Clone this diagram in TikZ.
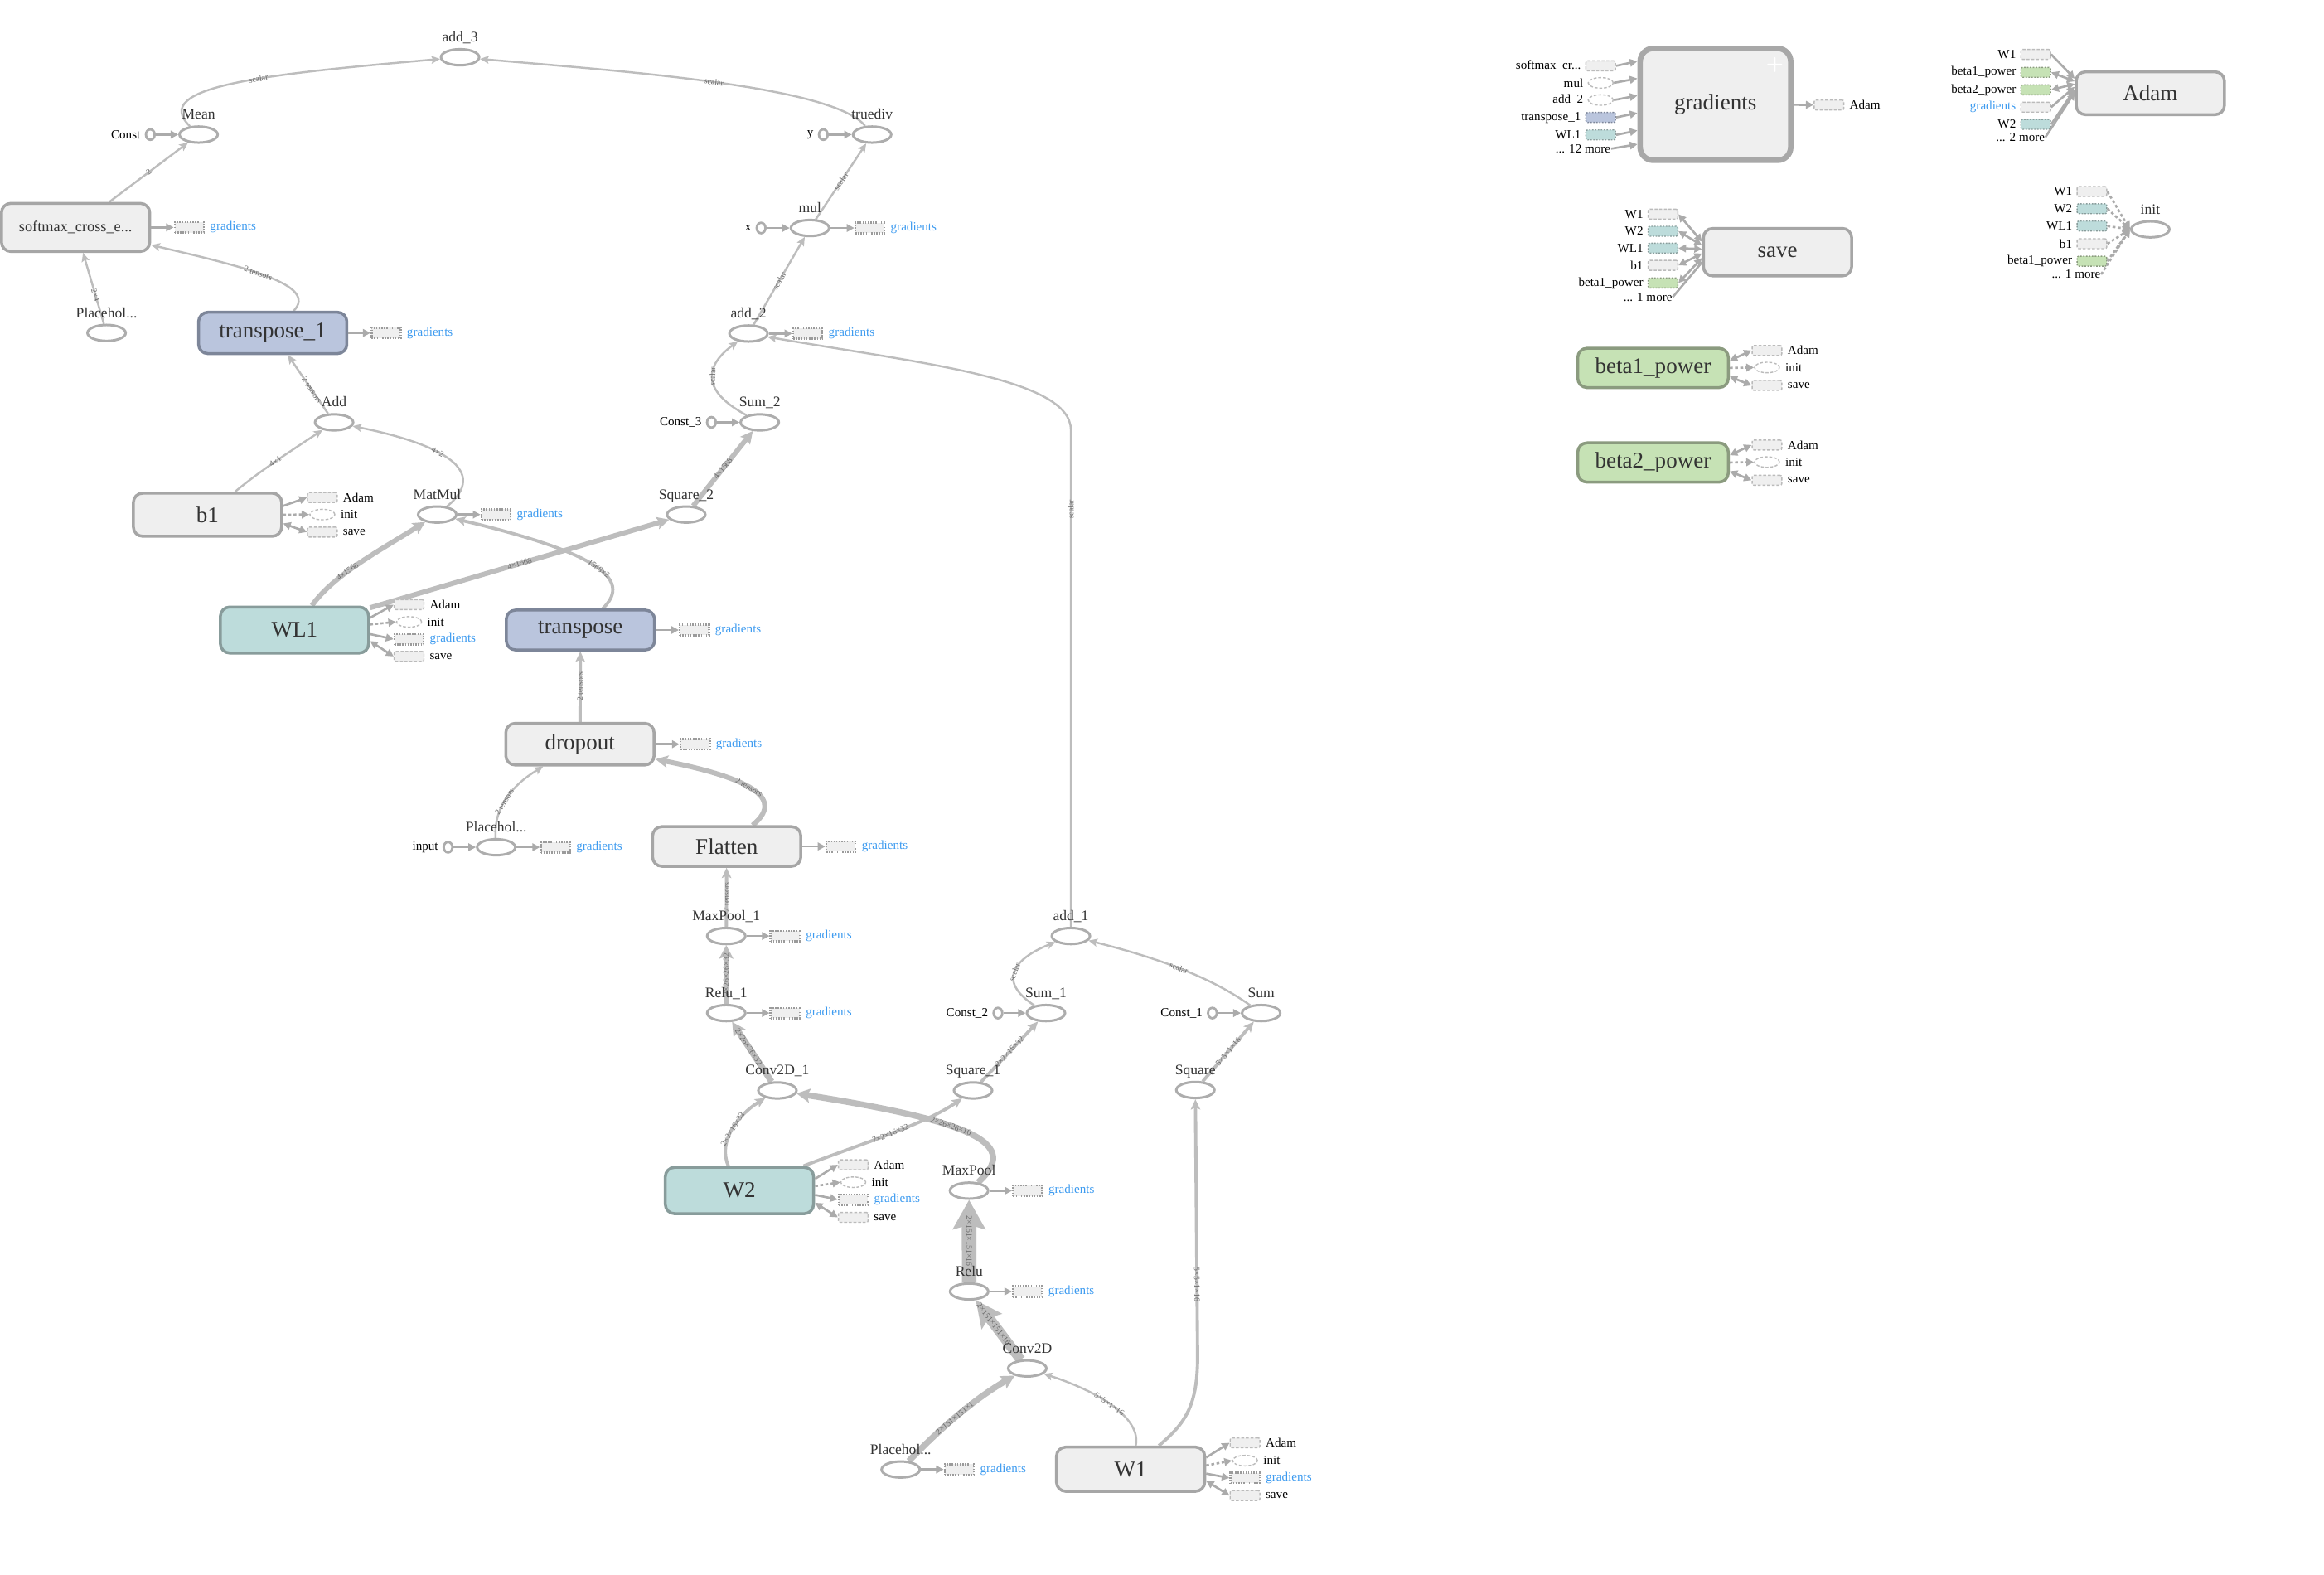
\documentclass[tikz,border=0pt]{standalone}
\usepackage{fontspec}
\setmainfont{Liberation Serif}
\usetikzlibrary{arrows.meta,shapes.geometric}
\pgfdeclarelayer{paper}
\pgfdeclarelayer{edges}
\pgfsetlayers{paper,edges,main}

\definecolor{edgec}{HTML}{BDBDBD}
\definecolor{arrc}{HTML}{ABABAB}
\definecolor{boxfill}{HTML}{EFEFEF}
\definecolor{boxline}{HTML}{A6A6A6}
\definecolor{bigline}{HTML}{A8A8A8}
\definecolor{opline}{HTML}{ADADAD}
\definecolor{txt}{HTML}{333333}
\definecolor{tealfill}{HTML}{BDDCDB}
\definecolor{tealline}{HTML}{889C9B}
\definecolor{bluefill}{HTML}{BAC5DD}
\definecolor{blueline}{HTML}{7D8699}
\definecolor{greenfill}{HTML}{C6E2B5}
\definecolor{greenline}{HTML}{8B9B7F}
\definecolor{gradblue}{HTML}{3D9BF0}
\definecolor{stublight}{HTML}{BBBBBB}
\definecolor{stubdark}{HTML}{9B9B9B}
\definecolor{elblc}{HTML}{6A6A6A}

\tikzset{
  box/.style={rectangle, rounded corners=3.2pt, minimum width=50.9pt, minimum height=14.5pt,
    line width=1pt, draw=boxline, fill=boxfill, text=txt,
    font=\fontsize{7.7}{8}\selectfont, inner sep=0pt},
  tealbox/.style={box, draw=tealline, fill=tealfill},
  bluebox/.style={box, draw=blueline, fill=bluefill},
  greenbox/.style={box, draw=greenline, fill=greenfill},
  op/.style={ellipse, minimum width=13.1pt, minimum height=5.5pt, inner sep=0pt,
    draw=opline, fill=white, line width=0.85pt},
  oplbl/.style={anchor=base, font=\fontsize{5}{5}\selectfont, text=txt, inner sep=0pt},
  cst/.style={ellipse, minimum width=3pt, minimum height=3.6pt, inner sep=0pt,
    draw=opline, fill=white, line width=0.8pt},
  smalltxt/.style={font=\fontsize{4.3}{4.3}\selectfont, text=black, inner sep=0pt},
  gtxt/.style={smalltxt, text=gradblue},
  gstub/.style={rectangle, minimum width=10pt, minimum height=3.6pt, inner sep=0pt,
    fill=boxfill, draw=stubdark, line width=0.7pt, dash pattern=on 0.45pt off 0.45pt},
  vstub/.style={rectangle, rounded corners=0.6pt, minimum width=10.2pt, minimum height=3.4pt,
    inner sep=0pt, fill=boxfill, draw=stublight, line width=0.4pt, dash pattern=on 1pt off 0.6pt},
  tstub/.style={vstub, fill=tealfill, draw=tealline, dash pattern=on 0.5pt off 0.5pt},
  bstub/.style={vstub, fill=bluefill, draw=blueline, dash pattern=on 0.5pt off 0.5pt},
  gnstub/.style={vstub, fill=greenfill, draw=greenline, dash pattern=on 0.5pt off 0.5pt},
  istub/.style={ellipse, minimum width=8.6pt, minimum height=3.6pt, inner sep=0pt,
    fill=white, draw=stublight, line width=0.4pt, dash pattern=on 1pt off 0.6pt},
  stubarr/.style={draw=arrc, line width=0.75pt, -{Triangle[length=2.6pt,width=2.6pt]}},
  stubboth/.style={draw=arrc, line width=0.75pt,
    {Triangle[length=2.6pt,width=2.6pt]}-{Triangle[length=2.6pt,width=2.6pt]}},
  stubdash/.style={stubarr, dash pattern=on 1pt off 0.8pt},
  stubline/.style={draw=arrc, line width=0.75pt},
  e0/.style={draw=edgec, line width=0.7pt, -{Stealth[length=3pt,width=2.7pt,inset=0.6pt]}},
  e1/.style={draw=edgec, line width=1.1pt, -{Stealth[length=3.5pt,width=3.2pt,inset=0.7pt]}},
  e2/.style={draw=edgec, line width=1.7pt, -{Stealth[length=4.2pt,width=4.2pt,inset=0.8pt]}},
  e3/.style={draw=edgec, line width=2.1pt, -{Stealth[length=4.6pt,width=4.8pt,inset=0.9pt]}},
  e4/.style={draw=edgec, line width=3.4pt, -{Stealth[length=9pt,width=8.5pt,inset=1.5pt]}},
  e5/.style={draw=edgec, line width=5pt, -{Stealth[length=10pt,width=11pt,inset=1.5pt]}},
  elbl/.style={font=\fontsize{2.8}{2.8}\selectfont, text=elblc, sloped, inner sep=0.2pt},
}

% operation ellipse with its caption above
\newcommand\opnode[4]{%
  \node[op] (#1) at (#2,#3) {};
  \node[oplbl] (#1-l) at ([yshift=5.3pt]#1.center) {#4};}
% gradients stub to the right of a node
\newcommand\gradstub[3]{%
  \node[gstub] (#1-g) at (#2,#3) {};
  \node[gtxt, anchor=west] (#1-gt) at ([xshift=1.6pt]#1-g.east) {gradients};
  \draw[stubarr] (#1) -- (#1-g);}
% small constant input on the left of an operation
\newcommand\constin[5]{%
  \node[cst] (#1) at (#2,#3) {};
  \node[smalltxt, anchor=east] (#1-t) at ([xshift=-1.3pt]#1.west) {#4};
  \draw[stubarr] (#1) -- (#5);}
% stub with its caption on the right / on the left
\newcommand\stubat[5]{%
  \node[#2] (#1) at (#3,#4) {};
  \node[smalltxt, anchor=west] (#1t) at ([xshift=1.6pt]#1.east) {#5};}
\newcommand\stubin[5]{%
  \node[#2] (#1) at (#3,#4) {};
  \node[smalltxt, anchor=east] (#1t) at ([xshift=-1.3pt]#1.west) {#5};}

\begin{document}
\begin{tikzpicture}[x=0.017883cm, y=-0.017883cm]
\useasboundingbox (0,0) rectangle (1568,1062);
\begin{pgfonlayer}{paper}
\fill[white] (0,0) rectangle (1568,1062);
\end{pgfonlayer}

% ---------------- main graph: boxes ----------------
\node[box, minimum height=16.5pt, font=\fontsize{5.2}{5.5}\selectfont] (softmax) at (51,153.4) {softmax\_cross\_e...};
\node[bluebox, minimum height=14.2pt] (tr1) at (184,224.6) {transpose\_1};
\node[box, minimum height=14.8pt] (b1) at (140,347.2) {b1};
\node[tealbox, minimum height=15.8pt] (wl1) at (198.7,425) {WL1};
\node[bluebox, minimum height=13.7pt] (tr) at (391.6,425) {transpose};
\node[box, minimum height=14.3pt] (drop) at (391.3,502) {dropout};
\node[box, minimum height=13.6pt] (flat) at (490.3,571) {Flatten};
\node[tealbox, minimum height=15.9pt] (w2) at (498.9,803.1) {W2};
\node[box, minimum height=15.2pt] (w1) at (762.8,991.1) {W1};

% ---------------- main graph: operations ----------------
\opnode{add3}{310.4}{38.6}{add\_3}
\opnode{mean}{134}{90.8}{Mean}
\opnode{truediv}{588.4}{90.8}{truediv}
\opnode{mul}{546.5}{153.8}{mul}
\opnode{pha}{71.9}{224.6}{Placehol...}
\opnode{add2}{505}{225}{add\_2}
\opnode{add}{225.4}{284.9}{Add}
\opnode{sum2}{512.6}{284.9}{Sum\_2}
\opnode{matmul}{295}{347.1}{MatMul}
\opnode{sq2}{463}{347.1}{Square\_2}
\opnode{phb}{334.8}{571.5}{Placehol...}
\opnode{mp1}{490}{631.4}{MaxPool\_1}
\opnode{relu1}{490}{683.4}{Relu\_1}
\opnode{conv1}{524.5}{735.6}{Conv2D\_1}
\opnode{sq1}{656.5}{735.6}{Square\_1}
\opnode{sum1}{705.7}{683.4}{Sum\_1}
\opnode{add1}{722.5}{631.4}{add\_1}
\opnode{sum}{850.9}{683.4}{Sum}
\opnode{sq}{806.5}{735.3}{Square}
\opnode{mp}{653.8}{803.2}{MaxPool}
\opnode{relu}{653.9}{871.2}{Relu}
\opnode{conv}{693.1}{923.1}{Conv2D}
\opnode{phc}{607.7}{991.3}{Placehol...}

\coordinate (bend) at (722.5,290);
\coordinate (w1up) at (808,915);

% ---------------- constants ----------------
\constin{c0}{101.4}{90.8}{Const}{mean}
\constin{cy}{555.5}{90.8}{y}{truediv}
\constin{cx}{513.5}{153.8}{x}{mul}
\constin{c3}{480}{284.9}{Const\_3}{sum2}
\constin{cin}{302.3}{571.5}{input}{phb}
\constin{c2}{673.3}{683.4}{Const\_2}{sum1}
\constin{c1}{818}{683.4}{Const\_1}{sum}

% ---------------- gradients stubs ----------------
\gradstub{softmax}{127.7}{153.4}
\gradstub{mul}{586.9}{153.8}
\gradstub{tr1}{260.5}{224.6}
\gradstub{add2}{545}{225}
\gradstub{matmul}{334.7}{347.1}
\gradstub{tr}{468.5}{425}
\gradstub{drop}{469}{502}
\gradstub{phb}{374.8}{571.5}
\gradstub{flat}{567.4}{571}
\gradstub{mp1}{529.7}{631.4}
\gradstub{relu1}{529.7}{683.4}
\gradstub{mp}{693.4}{803.2}
\gradstub{relu}{693.3}{871.2}
\gradstub{phc}{647.2}{991.3}

% ---------------- variable stubs ----------------
\stubat{b1a}{vstub}{217.5}{335.6}{Adam}
\stubat{b1i}{istub}{217.5}{347.1}{init}
\stubat{b1s}{vstub}{217.5}{358.9}{save}
\draw[stubarr] ([yshift=3pt]b1.east) -- (b1a.west);
\draw[stubdash] (b1.east) -- (b1i.west);
\draw[stubboth] ([yshift=-3pt]b1.east) -- (b1s.west);

\stubat{wl1a}{vstub}{276}{407.9}{Adam}
\stubat{wl1i}{istub}{276}{419.5}{init}
\stubat{wl1g}{gstub}{276}{431.2}{\textcolor{gradblue}{gradients}}
\stubat{wl1s}{vstub}{276}{442.8}{save}
\draw[stubarr] ([yshift=4.2pt]wl1.east) -- (wl1a.west);
\draw[stubdash] ([yshift=1.9pt]wl1.east) -- (wl1i.west);
\draw[stubarr] ([yshift=-1.4pt]wl1.east) -- (wl1g.west);
\draw[stubboth] ([yshift=-3.8pt]wl1.east) -- (wl1s.west);

\stubat{w2a}{vstub}{575.7}{785.7}{Adam}
\stubat{w2i}{istub}{575.7}{797.5}{init}
\stubat{w2g}{gstub}{575.7}{809.2}{\textcolor{gradblue}{gradients}}
\stubat{w2s}{vstub}{575.7}{821.2}{save}
\draw[stubarr] ([yshift=4pt]w2.east) -- (w2a.west);
\draw[stubdash] ([yshift=1.5pt]w2.east) -- (w2i.west);
\draw[stubarr] ([yshift=-1.5pt]w2.east) -- (w2g.west);
\draw[stubboth] ([yshift=-4.2pt]w2.east) -- (w2s.west);

\stubat{w1a}{vstub}{840}{973.3}{Adam}
\stubat{w1i}{istub}{840}{985.3}{init}
\stubat{w1g}{gstub}{840}{997}{\textcolor{gradblue}{gradients}}
\stubat{w1s}{vstub}{840}{1008.9}{save}
\draw[stubarr] ([yshift=4pt]w1.east) -- (w1a.west);
\draw[stubdash] ([yshift=1.3pt]w1.east) -- (w1i.west);
\draw[stubarr] ([yshift=-1.5pt]w1.east) -- (w1g.west);
\draw[stubboth] ([yshift=-4pt]w1.east) -- (w1s.west);

% ---------------- edges ----------------
\begin{pgfonlayer}{edges}
\draw[e0] (mean) .. controls (100,58) and (180,50) .. node[elbl, pos=0.58] (l1) {scalar} (add3);
\draw[e0] (truediv) .. controls (562,58) and (420,48) .. node[elbl, pos=0.5] (l2) {scalar} (add3);
\draw[e0] (softmax) -- node[elbl] (l3) {2} (mean);
\draw[e0] (pha) -- node[elbl, pos=0.4] (l4) {2×4} (softmax);
\draw[e0] (tr1) .. controls (215,192) and (165,180) .. node[elbl, pos=0.55] (l5) {2 tensors} (softmax);
\draw[e0] (add) -- node[elbl, pos=0.4] (l6) {2 tensors} (tr1);
\draw[e0] (b1) .. controls (175,318) and (195,305) .. node[elbl] (l7) {4×1} (add);
\draw[e0] (matmul) .. controls (330,318) and (300,300) .. node[elbl, pos=0.6] (l8) {4×2} (add);
\draw[e2] (wl1) .. controls (225,388) and (255,372) .. node[elbl, pos=0.4] (l9) {4×1568} (matmul);
\draw[e2] (wl1) -- node[elbl, pos=0.5] (l10) {4×1568} (sq2);
\draw[e1] (tr) .. controls (428,390) and (400,372) .. node[elbl, pos=0.45] (l11) {1568×2} (matmul);
\draw[e2] (sq2) -- node[elbl] (l12) {4×1568} (sum2);
\draw[e0] (sum2) .. controls (470,262) and (478,245) .. node[elbl] (l13) {scalar} (add2);
\draw[e0] (add2) -- node[elbl] (l14) {scalar} (mul);
\draw[e0] (mul) -- node[elbl] (l15) {scalar} (truediv);
\draw[e0] (add1) -- node[elbl, pos=0.84] (l16) {scalar} (bend) .. controls (722.5,255) and (620,245) .. (add2);
\draw[e1] (drop) -- node[elbl] (l17) {2 tensors} (tr);
\draw[e0] (phb) .. controls (333,545) and (345,530) .. node[elbl, pos=0.45] (l18) {2 tensors} (drop);
\draw[e2] (flat) .. controls (528,540) and (512,526) .. node[elbl, pos=0.55] (l19) {2 tensors} (drop);
\draw[e1] (mp1) -- node[elbl] (l20) {2 tensors} (flat);
\draw[e3] (relu1) -- node[elbl] (l21) {2×26×26×32} (mp1);
\draw[e3] (conv1) -- node[elbl, pos=0.58] (l22) {2×26×26×32} (relu1);
\draw[e1] (w2) .. controls (484,770) and (498,752) .. node[elbl, pos=0.5] (l23) {2×2×16×32} (conv1);
\draw[e1] (w2) .. controls (580,772) and (625,758) .. node[elbl, pos=0.5] (l24) {2×2×16×32} (sq1);
\draw[e3] (mp) .. controls (688,772) and (660,757) .. node[elbl, pos=0.6] (l25) {2×26×26×16} (conv1);
\draw[e1] (sq1) -- node[elbl] (l26) {2×2×16×32} (sum1);
\draw[e0] (sum1) .. controls (670,660) and (688,645) .. node[elbl, pos=0.45] (l27) {scalar} (add1);
\draw[e0] (sum) .. controls (815,658) and (780,646) .. node[elbl, pos=0.5] (l28) {scalar} (add1);
\draw[e1] (sq) -- node[elbl] (l29) {5×5×1×16} (sum);
\draw[e1] (w1) .. controls (800,960) and (808,948) .. (w1up) -- node[elbl, pos=0.28] (l30) {5×5×1×16} (sq);
\draw[e0] (w1) .. controls (770,958) and (745,940) .. node[elbl, pos=0.55] (l31) {5×5×1×16} (conv);
\draw[e3] (phc) .. controls (630,968) and (655,945) .. node[elbl, pos=0.5] (l32) {2×151×151×1} (conv);
\draw[e4] (conv) -- node[elbl, pos=0.6] (l33) {2×151×151×16} (relu);
\draw[e5] (relu) -- node[elbl] (l34) {2×151×151×16} (mp);
\end{pgfonlayer}

% ---------------- gradients group ----------------
\node[box, minimum width=51.7pt, minimum height=38.4pt, line width=1.9pt, rounded corners=4.5pt,
  draw=bigline] (grad) at (1157.4,70.4) {gradients};
\node[text=white, font=\sffamily\bfseries\fontsize{7}{7}\selectfont, inner sep=0pt] (gplus) at (1197.5,43.8) {+};
\stubin{gi1}{vstub}{1080}{44.4}{softmax\_cr...}
\stubin{gi2}{istub}{1080}{55.9}{mul}
\stubin{gi3}{istub}{1080}{67.5}{add\_2}
\stubin{gi4}{bstub}{1080}{79.2}{transpose\_1}
\stubin{gi5}{tstub}{1080}{91}{WL1}
\node[smalltxt, anchor=east] (gi6) at (1087,100.3) {... 12 more};
\draw[stubarr] (gi1.east) -- ([yshift=14.8pt]grad.west);
\draw[stubarr] (gi2.east) -- ([yshift=8.9pt]grad.west);
\draw[stubarr] (gi3.east) -- ([yshift=3pt]grad.west);
\draw[stubarr] (gi4.east) -- ([yshift=-2.95pt]grad.west);
\draw[stubarr] (gi5.east) -- ([yshift=-8.96pt]grad.west);
\draw[stubarr] (gi6.east) -- ([yshift=-13.7pt]grad.west);
\stubat{gout}{vstub}{1234}{70.8}{Adam}
\draw[stubarr] (grad) -- (gout);

% ---------------- Adam group ----------------
\node[box, minimum height=14.7pt] (adam) at (1450.8,62.9) {Adam};
\stubin{ai1}{vstub}{1373.5}{36.7}{W1}
\stubin{ai2}{gnstub}{1373.5}{48.8}{beta1\_power}
\stubin{ai3}{gnstub}{1373.5}{60.6}{beta2\_power}
\stubin{ai4}{vstub}{1373.5}{72.3}{\textcolor{gradblue}{gradients}}
\stubin{ai5}{tstub}{1373.5}{83.9}{W2}
\node[smalltxt, anchor=east] (ai6) at (1380,92.6) {... 2 more};
\draw[stubarr] (ai1.east) -- ([yshift=5pt]adam.west);
\draw[stubboth] (ai2.east) -- ([yshift=4.1pt]adam.west);
\draw[stubboth] (ai3.east) -- ([yshift=3.2pt]adam.west);
\draw[stubarr] (ai4.east) -- ([yshift=2.2pt]adam.west);
\draw[stubarr] (ai5.east) -- ([yshift=1.3pt]adam.west);
\draw[stubarr] (ai6.east) -- ([yshift=0.3pt]adam.west);

% ---------------- save group ----------------
\node[box, minimum height=16.3pt] (save) at (1199.3,170.1) {save};
\stubin{si1}{vstub}{1122}{144.5}{W1}
\stubin{si2}{tstub}{1122}{156}{W2}
\stubin{si3}{tstub}{1122}{167.4}{WL1}
\stubin{si4}{vstub}{1122}{179}{b1}
\stubin{si5}{gnstub}{1122}{190.9}{beta1\_power}
\node[smalltxt, anchor=east] (si6) at (1128.6,200.4) {... 1 more};
\draw[stubboth] (si1.east) -- ([yshift=3.6pt]save.west);
\draw[stubboth] (si2.east) -- ([yshift=2.35pt]save.west);
\draw[stubboth] (si3.east) -- ([yshift=1.07pt]save.west);
\draw[stubboth] (si4.east) -- ([yshift=-0.46pt]save.west);
\draw[stubboth] (si5.east) -- ([yshift=-2pt]save.west);
\draw[stubline] (si6.east) -- ([yshift=-3.5pt]save.west);

% ---------------- init group ----------------
\opnode{init}{1450.8}{154.7}{init}
\stubin{ii1}{vstub}{1411.4}{129.2}{W1}
\stubin{ii2}{tstub}{1411.4}{140.8}{W2}
\stubin{ii3}{tstub}{1411.4}{152.5}{WL1}
\stubin{ii4}{vstub}{1411.4}{164.4}{b1}
\stubin{ii5}{gnstub}{1411.4}{176.2}{beta1\_power}
\node[smalltxt, anchor=east] (ii6) at (1417.6,185.1) {... 1 more};
\foreach \s in {ii1,ii2,ii3,ii4,ii5,ii6}
  \draw[stubdash] (\s.east) -- (init.west);

% ---------------- beta power variables ----------------
\node[greenbox, minimum width=51.7pt, minimum height=13.5pt] (beta1) at (1115.3,248.2) {beta1\_power};
\stubat{b1pa}{vstub}{1192.2}{236.4}{Adam}
\stubat{b1pi}{istub}{1192.2}{247.9}{init}
\stubat{b1ps}{vstub}{1192.2}{260}{save}
\draw[stubboth] ([yshift=2.5pt]beta1.east) -- (b1pa.west);
\draw[stubdash] (beta1.east) -- (b1pi.west);
\draw[stubboth] ([yshift=-3pt]beta1.east) -- (b1ps.west);

\node[greenbox, minimum width=51.7pt, minimum height=13.5pt] (beta2) at (1115.3,312) {beta2\_power};
\stubat{b2pa}{vstub}{1192.2}{300.2}{Adam}
\stubat{b2pi}{istub}{1192.2}{311.7}{init}
\stubat{b2ps}{vstub}{1192.2}{324}{save}
\draw[stubboth] ([yshift=2.5pt]beta2.east) -- (b2pa.west);
\draw[stubdash] (beta2.east) -- (b2pi.west);
\draw[stubboth] ([yshift=-3pt]beta2.east) -- (b2ps.west);
\end{tikzpicture}
\end{document}
